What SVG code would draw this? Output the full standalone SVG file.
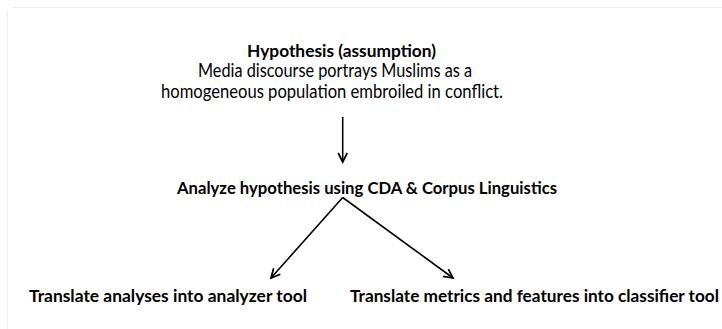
<svg xmlns="http://www.w3.org/2000/svg" width="722" height="329" viewBox="0 0 722 329">
<style>
text{font-family:Lato,"Open Sans","Liberation Sans",sans-serif;fill:#000;text-anchor:middle}
.b{font-weight:bold;font-size:17.5px}
.r{font-size:18.5px}
.c{stroke:#000;stroke-width:1.6;fill:none}
.edge{stroke:#eeeeee;stroke-width:1;fill:none}
</style>
<defs>
<marker id="ah" markerWidth="13" markerHeight="13" refX="11" refY="5.5" orient="auto" markerUnits="userSpaceOnUse" viewBox="0 0 13 11">
<polyline points="2,1 11,5.5 2,10" fill="none" stroke="#000" stroke-width="1.7"/>
</marker>
</defs>
<rect width="722" height="329" fill="#fff"/>
<path class="edge" d="M13 7.5H722M7.5 11V329"/>
<g id="hypothesis">
<text class="b" x="341.5" y="57" textLength="189" lengthAdjust="spacingAndGlyphs">Hypothesis (assumption)</text>
<text class="r" x="335" y="77" textLength="274" lengthAdjust="spacingAndGlyphs">Media discourse portrays Muslims as a</text>
<text class="r" x="332" y="98" textLength="342" lengthAdjust="spacingAndGlyphs">homogeneous population embroiled in conflict.</text>
</g>
<g id="analyze">
<text class="b" x="367" y="194" textLength="380" lengthAdjust="spacingAndGlyphs">Analyze hypothesis using CDA &amp; Corpus Linguistics</text>
</g>
<g id="analyzer">
<text class="b" x="168" y="302" textLength="278" lengthAdjust="spacingAndGlyphs">Translate analyses into analyzer tool</text>
</g>
<g id="classifier">
<text class="b" x="534.5" y="302" textLength="369" lengthAdjust="spacingAndGlyphs">Translate metrics and features into classifier tool</text>
</g>
<g id="connectors">
<line class="c" x1="342.7" y1="117" x2="342.7" y2="162" marker-end="url(#ah)"/>
<line class="c" x1="342.7" y1="197.5" x2="271" y2="278" marker-end="url(#ah)"/>
<line class="c" x1="342.7" y1="197.5" x2="453" y2="278" marker-end="url(#ah)"/>
</g>
</svg>
